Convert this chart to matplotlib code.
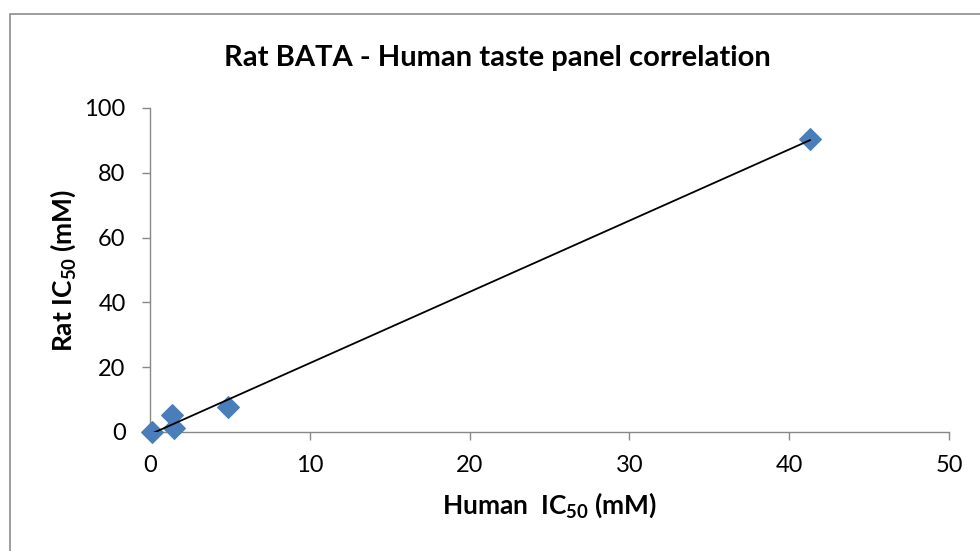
import numpy as np
import matplotlib.pyplot as plt
from matplotlib.patches import Rectangle

# values
human_ic50 = [0.1, 1.4, 1.5, 4.9, 41.3]
rat_ic50 = [0.1, 5.2, 1.2, 7.7, 90.3]

x_ticks = [0, 10, 20, 30, 40, 50]
y_ticks = [0, 20, 40, 60, 80, 100]

plt.rcParams['font.family'] = ['Lato', 'DejaVu Sans']
plt.rcParams['mathtext.fontset'] = 'custom'
plt.rcParams['mathtext.bf'] = 'Lato:bold'
plt.rcParams['mathtext.rm'] = 'Lato'

fig = plt.figure(figsize=(9.8, 5.51), dpi=100)
fig.patches.append(Rectangle((10/980, -0.1), 1.0, (551-14)/551 + 0.1, transform=fig.transFigure,
                             fill=False, edgecolor='#8c8c8c', linewidth=1.2))
ax = fig.add_axes([150/980, (551-432)/551, 799/980, 324/551])

ax.scatter(human_ic50, rat_ic50, marker='D', s=120, color='#4a7ebb', zorder=3, clip_on=False)

# linear trendline
k, b = np.polyfit(human_ic50, rat_ic50, 1)
xs = np.array([min(human_ic50), max(human_ic50)])
ax.plot(xs, k*xs + b, color='black', linewidth=1.3, zorder=4)

ax.set_xlim(0, 50)
ax.set_ylim(0, 100)
ax.set_xticks(x_ticks)
ax.set_yticks(y_ticks)
ax.tick_params(labelsize=17, color='#888888', length=5.5, width=1)
ax.tick_params(axis='x', pad=11)
ax.tick_params(axis='y', pad=12)
for s in ['top', 'right']:
    ax.spines[s].set_visible(False)
for s in ['left', 'bottom']:
    ax.spines[s].set_color('#888888')
    ax.spines[s].set_linewidth(1)

# title is centred on the chart area, not on the plot
fig.text(497/980, 1 - 66/551, 'Rat BATA - Human taste panel correlation', fontsize=21,
         fontweight='bold', ha='center', va='baseline')
ax.set_xlabel('Human  IC$_{\\mathbf{50}}$ (mM)', fontsize=19, fontweight='bold', labelpad=10)
ax.set_ylabel('Rat IC$_{\\mathbf{50}}$ (mM)', fontsize=19, fontweight='bold', labelpad=5)

fig.savefig('out.png', dpi=100)
